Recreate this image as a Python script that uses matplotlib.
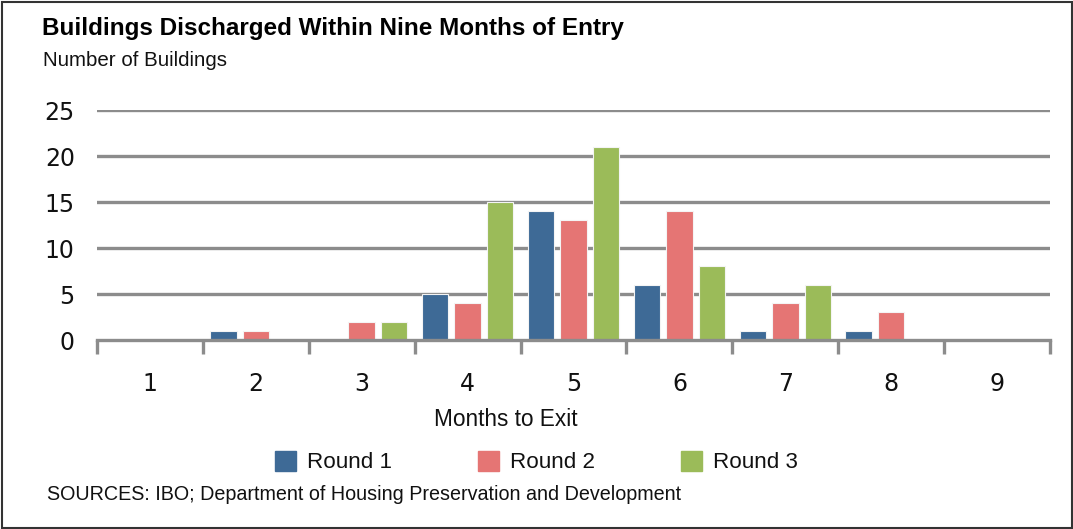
import numpy as np
import matplotlib
matplotlib.use('Agg')
from matplotlib import pyplot as plt
from matplotlib.patches import Rectangle

# data
months = ['1', '2', '3', '4', '5', '6', '7', '8', '9']
round1 = [0, 1, 0, 5, 14, 6, 1, 1, 0]
round2 = [0, 1, 2, 4, 13, 14, 4, 3, 0]
round3 = [0, 0, 2, 15, 21, 8, 6, 0, 0]
series_names = ['Round 1', 'Round 2', 'Round 3']
colors = ['#3e6a96', '#e57574', '#9bbb59']
yticks = [0, 5, 10, 15, 20, 25]

grid_color = '#8c8c8c'
plt.rcParams['font.family'] = ['DejaVu Sans']

fig = plt.figure(figsize=(10.73, 5.29), dpi=100)
ax = fig.add_axes([97 / 1073, 1 - 340 / 529, (1050 - 97) / 1073, (340 - 110) / 529])

x = np.arange(len(months))
offset = 0.307
width = 0.25
for k, vals in enumerate([round1, round2, round3]):
    ax.bar(x + (k - 1) * offset, vals, width=width, color=colors[k],
           edgecolor='#f4f4f4', linewidth=0.8, label=series_names[k], zorder=3)

ax.set_xlim(-0.5, len(months) - 0.5)
ax.set_ylim(0, 25)
ax.set_yticks(yticks)
ax.set_yticklabels([str(v) for v in yticks], fontsize=17, color='#111111')
ax.tick_params(axis='y', length=0, pad=16)
for v in yticks[1:]:
    ax.axhline(v, color=grid_color, linewidth=2.4, zorder=1)

# category labels between boundary ticks
ax.set_xticks(np.arange(-0.5, len(months)))
ax.set_xticklabels([])
ax.tick_params(axis='x', length=10, width=2.4, color=grid_color, direction='out')
for i, m in enumerate(months):
    ax.text(i, -4.8, m, ha='center', va='center', fontsize=17, color='#111111')

for s in ['top', 'right', 'left']:
    ax.spines[s].set_visible(False)
ax.spines['bottom'].set_color(grid_color)
ax.spines['bottom'].set_linewidth(2.4)
ax.spines['bottom'].set_zorder(4)

fig.text(434 / 1073, 1 - 420 / 529, 'Months to Exit', ha='left', va='center',
         fontsize=16.3, family='Liberation Sans', color='#111111')

# legend
leg_x = [275, 478, 681]
for k, name in enumerate(series_names):
    fig.patches.append(Rectangle((leg_x[k] / 1073, 1 - 471 / 529), 21 / 1073, 20 / 529,
                                 transform=fig.transFigure, color=colors[k]))
    fig.text((leg_x[k] + 32) / 1073, 1 - 462 / 529, name, ha='left', va='center',
             fontsize=16.1, family='Liberation Sans', color='#111111')

fig.text(42 / 1073, 1 - 29 / 529, 'Buildings Discharged Within Nine Months of Entry',
         ha='left', va='center', fontsize=17.5, fontweight='bold',
         family=['Liberation Sans Narrow', 'Liberation Sans'], color='black')
fig.text(43 / 1073, 1 - 60 / 529, 'Number of Buildings', ha='left', va='center',
         fontsize=14.8, family='Liberation Sans', color='#111111')
fig.text(47 / 1073, 1 - 495 / 529,
         'SOURCES: IBO; Department of Housing Preservation and Development',
         ha='left', va='center', fontsize=14.2, family='Liberation Sans', color='#111111')

# outer frame
fig.patches.append(Rectangle((1.5 / 1073, 1.5 / 529), 1 - 3 / 1073, 1 - 3 / 529,
                             transform=fig.transFigure, fill=False,
                             edgecolor='#333333', linewidth=1.5))

plt.savefig('out.png', dpi=100)
